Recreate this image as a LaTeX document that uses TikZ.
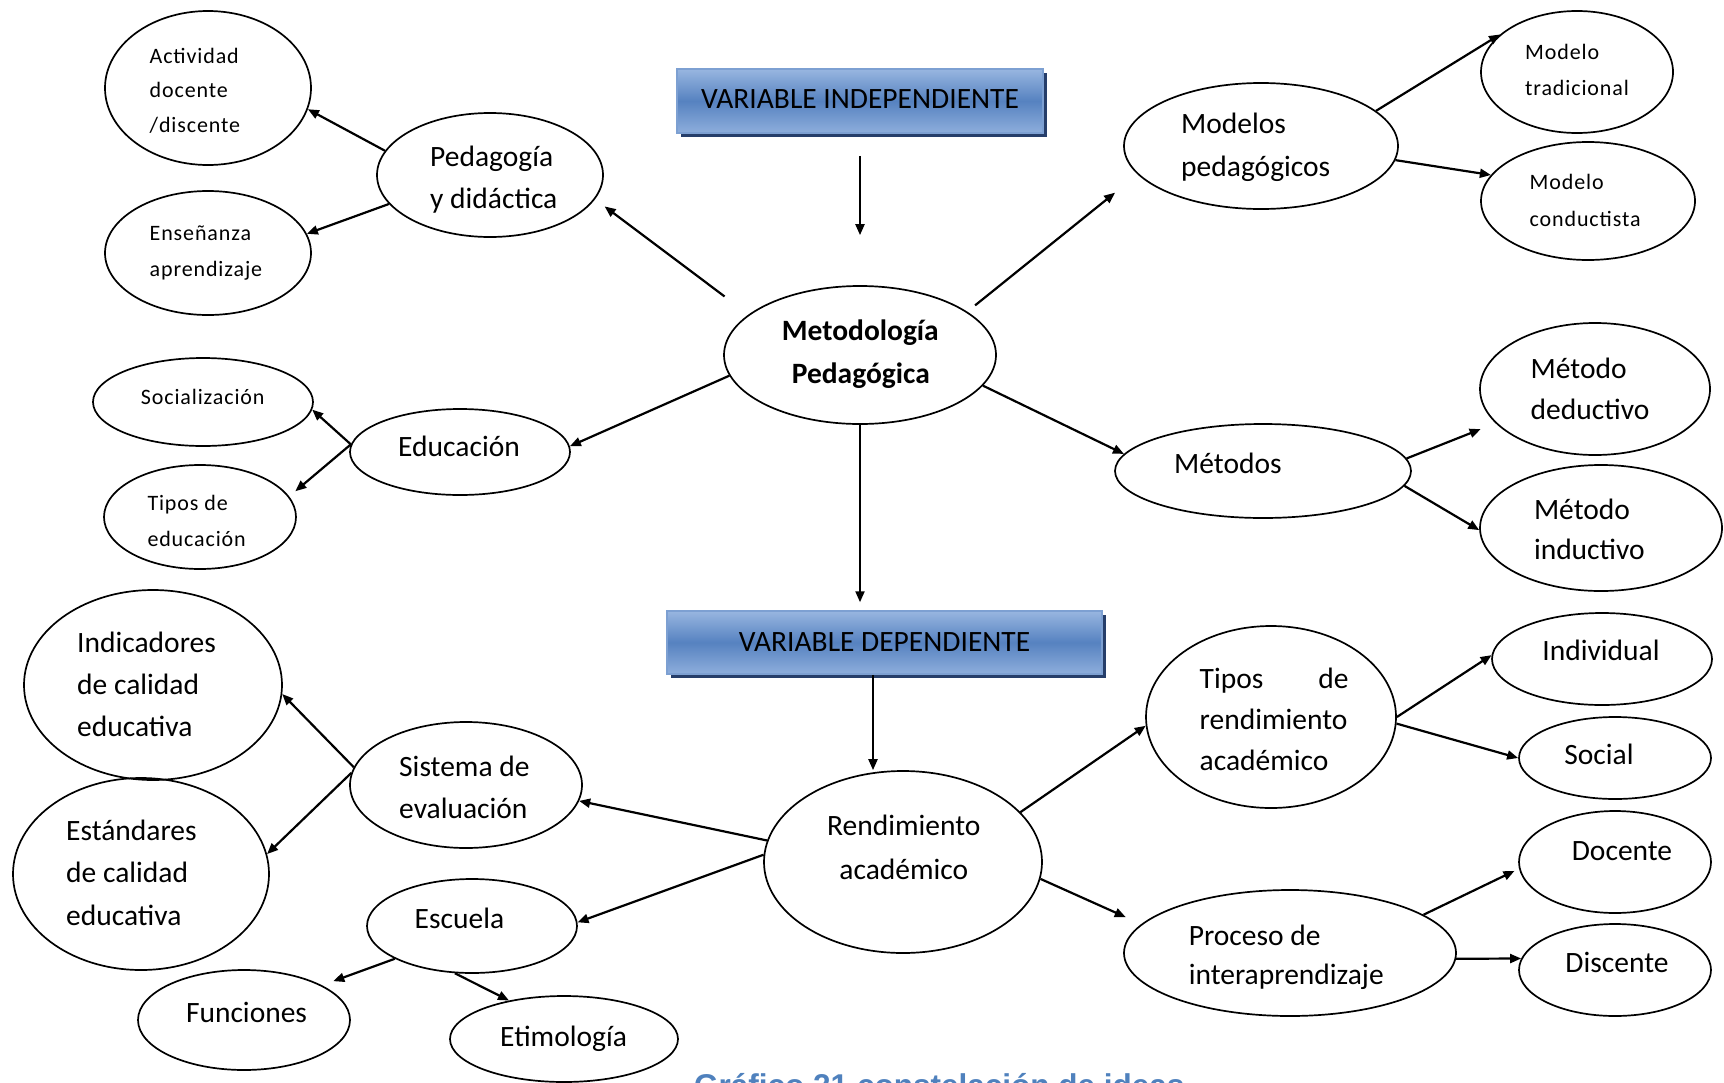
\documentclass[tikz,border=0pt]{standalone}
\usepackage{fontspec}
\setmainfont{Carlito}
\newfontfamily\smallfont[LetterSpace=4]{Carlito}
\newfontfamily\capfont{Liberation Sans}
\usetikzlibrary{arrows.meta,shapes.geometric,shadows}
\definecolor{boxtop}{RGB}{152,182,224}
\definecolor{boxmid}{RGB}{86,130,192}
\definecolor{boxbot}{RGB}{142,174,220}
\definecolor{boxline}{RGB}{125,160,210}
\definecolor{boxshadow}{RGB}{38,62,106}
\definecolor{capblue}{RGB}{79,129,189}
\begin{document}
\begin{tikzpicture}[x=1pt,y=-1pt,
  ell/.style={draw, ellipse, line width=1.7pt, inner sep=0pt},
  sm/.style={font=\smallfont\fontsize{22}{26}\selectfont, anchor=base west, inner sep=0pt},
  lg/.style={font=\fontsize{29.5}{34}\selectfont, anchor=base west, inner sep=0pt},
  lgc/.style={font=\fontsize{29.5}{34}\selectfont, anchor=base, inner sep=0pt},
  lgb/.style={font=\bfseries\fontsize{29.5}{34}\selectfont, anchor=base west, inner sep=0pt},
  arr/.style={-{Triangle[length=11pt,width=9pt]}, line width=2.2pt},
  varbox/.style={draw=boxline, line width=1.5pt, rectangle, inner sep=0pt,
    top color=boxtop, bottom color=boxbot, middle color=boxmid,
    drop shadow={shadow xshift=4pt, shadow yshift=-4pt, fill=boxshadow, opacity=1},
    font=\fontsize{29.5}{34}\selectfont}
]
\useasboundingbox (0,0) rectangle (1724,1082);

% boxes
\node[varbox, minimum width=366pt, minimum height=64pt] (vi) at (860,101) {\raisebox{3pt}{VARIABLE INDEPENDIENTE}};
\node[varbox, minimum width=435pt, minimum height=63pt] (vd) at (884.5,642.5) {VARIABLE DEPENDIENTE};

% ellipses
\node[ell, minimum width=206pt, minimum height=154pt] (act) at (208,88) {};
\node[ell, minimum width=206pt, minimum height=124pt] (ens) at (208,253) {};
\node[ell, minimum width=226pt, minimum height=124pt] (ped) at (490,175) {};
\node[ell, minimum width=220pt, minimum height=88pt] (soc) at (203,402) {};
\node[ell, minimum width=192pt, minimum height=104pt] (tde) at (200,517) {};
\node[ell, minimum width=220pt, minimum height=86pt] (edu) at (460,452) {};
\node[ell, minimum width=272pt, minimum height=138pt] (met) at (860,355) {};
\node[ell, minimum width=274pt, minimum height=126pt] (mod) at (1261,146) {};
\node[ell, minimum width=192pt, minimum height=122pt] (tra) at (1577,72) {};
\node[ell, minimum width=214pt, minimum height=118pt] (con) at (1588,201) {};
\node[ell, minimum width=230pt, minimum height=132pt] (ded) at (1595,389) {};
\node[ell, minimum width=296pt, minimum height=94pt] (mts) at (1263,471) {};
\node[ell, minimum width=242pt, minimum height=126pt] (indu) at (1601,528) {};
\node[ell, minimum width=258pt, minimum height=190pt] (indc) at (153,685) {};
\node[ell, minimum width=256pt, minimum height=192pt] (est) at (141,874) {};
\node[ell, minimum width=232pt, minimum height=126pt] (sis) at (466,785) {};
\node[ell, minimum width=210pt, minimum height=94pt] (esc) at (472,926) {};
\node[ell, minimum width=212pt, minimum height=100pt] (fun) at (244,1020) {};
\node[ell, minimum width=228pt, minimum height=86pt] (eti) at (564,1039) {};
\node[ell, minimum width=278pt, minimum height=182pt] (ren) at (903,862) {};
\node[ell, minimum width=250pt, minimum height=182pt] (tr) at (1271,717) {};
\node[ell, minimum width=220pt, minimum height=92pt] (indv) at (1602,659) {};
\node[ell, minimum width=192pt, minimum height=82pt] (soc2) at (1615,758) {};
\node[ell, minimum width=192pt, minimum height=102pt] (doc) at (1615,862) {};
\node[ell, minimum width=332pt, minimum height=126pt] (pro) at (1290,953) {};
\node[ell, minimum width=192pt, minimum height=92pt] (dis) at (1615,970) {};

% texts
\node[sm] (a1) at (149.5,63) {Actividad};
\node[sm] (a2) at (149.5,97) {docente};
\node[sm] (a3) at (149.5,132) {/discente};
\node[sm] (e1) at (149.5,240) {Enseñanza};
\node[sm] (e2) at (149.5,276) {aprendizaje};
\node[sm] (s1) at (140.7,404) {Socialización};
\node[sm] (t1) at (147.3,510) {Tipos de};
\node[sm] (t2) at (147.3,546) {educación};
\node[sm] (m1) at (1525,59) {Modelo};
\node[sm] (m2) at (1525,95) {tradicional};
\node[sm] (c1) at (1529.5,189) {Modelo};
\node[sm] (c2) at (1529.5,226) {conductista};

\node[lg] (p1) at (430,166) {Pedagogía};
\node[lg] (p2) at (430,208) {y didáctica};
\node[lg] (ed1) at (398,456) {Educación};
\node[lgb] (me1) at (781.7,340) {Metodología};
\node[lgb] (me2) at (791.6,383) {Pedagógica};
\node[lg] (mo1) at (1181,133) {Modelos};
\node[lg] (mo2) at (1181,176) {pedagógicos};
\node[lg] (d1) at (1530.5,378) {Método};
\node[lg] (d2) at (1530.5,419) {deductivo};
\node[lg] (mt1) at (1174,473) {Métodos};
\node[lg] (i1) at (1533.8,519) {Método};
\node[lg] (i2) at (1533.8,559) {inductivo};
\node[lg] (in1) at (77,652) {Indicadores};
\node[lg] (in2) at (77,694) {de calidad};
\node[lg] (in3) at (77,736) {educativa};
\node[lg] (es1) at (66,840) {Estándares};
\node[lg] (es2) at (66,882) {de calidad};
\node[lg] (es3) at (66,925) {educativa};
\node[lg] (si1) at (399,776) {Sistema de};
\node[lg] (si2) at (399,818) {evaluación};
\node[lg] (sc1) at (414.5,928) {Escuela};
\node[lg] (f1) at (185.8,1022) {Funciones};
\node[lg] (et1) at (500,1046) {Etimología};
\node[lgc] (r1) at (903.8,835) {Rendimiento};
\node[lgc] (r2) at (903.8,879) {académico};
\node[lg] (tr1) at (1199.5,688) {\makebox[149pt][s]{Tipos de}};
\node[lg] (tr2) at (1199.5,729) {rendimiento};
\node[lg] (tr3) at (1199.5,770) {académico};
\node[lgc] (iv) at (1601,660) {Individual};
\node[lgc] (so) at (1599,764) {Social};
\node[lgc] (dc) at (1622,860) {Docente};
\node[lg] (pr1) at (1188.6,945) {Proceso de};
\node[lg] (pr2) at (1188.6,984) {interaprendizaje};
\node[lgc] (ds) at (1617,972) {Discente};

\node[font=\capfont\bfseries\fontsize{31.5}{36}\selectfont, text=capblue, anchor=base west, inner sep=0pt] (cap) at (694,1096) {Gráfico 21 constelación de ideas};

% arrows
\draw[arr] (ped.167) -- (act.348);
\draw[arr] (ped.196) -- (ens.11);
\draw[arr, shorten <=30pt, shorten >=12pt] (met.160) -- (ped.347);
\draw[arr, shorten <=22pt, shorten >=50pt] (vi.south) -- (met.north);
\draw[arr, shorten <=10pt, shorten >=29pt] (met.22) -- (mod.193);
\draw[arr] (mod.17.5) -- (tra.154);
\draw[arr] (mod.354.5) -- (con.165);
\draw[arr] (met.189) -- (edu.3);
\draw[arr] (edu.176) -- (soc.356);
\draw[arr, shorten >=8pt] (edu.176) -- (tde.13);
\draw[arr] (met.346.5) -- (mts.173);
\draw[arr, shorten >=16pt] (mts.5.7) -- (ded.199);
\draw[arr] (mts.354) -- (indu.181.4);
\draw[arr, shorten >=8pt] (met.south) -- (met.south |- vd.north);
\draw[arr] ([xshift=-11.5pt]vd.south) -- ([xshift=-11.5pt]vd.south |- ren.north);
\draw[arr] (ren.171) -- (sis.352);
\draw[arr] (ren.177) -- (esc.2);
\draw[arr] (sis.171) -- (indc.356);
\draw[arr] (sis.174) -- (est.9);
\draw[arr, shorten >=12pt] (esc.203) -- (fun.24);
\draw[arr] (esc.250) -- (eti.145);
\draw[arr] (ren.23) -- (tr.184);
\draw[arr, shorten >=17pt] (ren.353.4) -- (pro.169.4);
\draw[arr] (tr.0) -- (indv.178);
\draw[arr] (tr.357) -- (soc2.180);
\draw[arr, shorten >=5pt] (pro.16) -- (doc.184);
\draw[arr] (pro.358) -- (dis.173);
\end{tikzpicture}
\end{document}
